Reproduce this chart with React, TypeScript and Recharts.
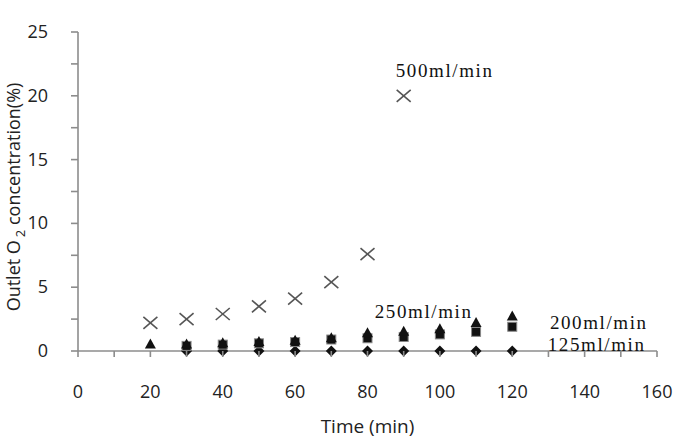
import {
  ScatterChart,
  Scatter,
  XAxis,
  YAxis,
  ReferenceDot,
  ReferenceLine,
  Label,
} from "recharts";

// time (min) at which each flow-rate series was sampled
const times500 = [20, 30, 40, 50, 60, 70, 80, 90];
const times250 = [20, 30, 40, 50, 60, 70, 80, 90, 100, 110, 120];
const times200 = [30, 40, 50, 60, 70, 80, 90, 100, 110, 120];
const times125 = [30, 40, 50, 60, 70, 80, 90, 100, 110, 120];

// outlet O2 concentration (%)
const o2At500 = [2.2, 2.5, 2.9, 3.5, 4.1, 5.4, 7.6, 20.0];
const o2At250 = [0.5, 0.5, 0.6, 0.7, 0.8, 1.0, 1.4, 1.5, 1.7, 2.2, 2.7];
const o2At200 = [0.4, 0.5, 0.6, 0.7, 0.9, 1.0, 1.1, 1.3, 1.5, 1.9];
const o2At125 = [0, 0, 0, 0, 0, 0, 0, 0, 0, 0];

const xTicks = [0, 10, 20, 30, 40, 50, 60, 70, 80, 90, 100, 110, 120, 130, 140, 150, 160];
const yTicks = [0, 2.5, 5, 7.5, 10, 12.5, 15, 17.5, 20, 22.5, 25];

// where each series name is written, in data units (text starts here)
const seriesNotes = [
  { name: "500ml/min", x: 87.8, y: 21.5 },
  { name: "250ml/min", x: 82, y: 2.6 },
  { name: "200ml/min", x: 130.4, y: 1.7 },
  { name: "125ml/min", x: 129.8, y: 0 },
];

const zip = (xs: number[], ys: number[]) => xs.map((t, i) => ({ time: t, o2: ys[i] }));

const AXIS = "#8c8c8c";
const TICK_FONT = "'Open Sans', sans-serif";

const Cross = ({ cx, cy }: any) => (
  <g stroke="#555" strokeWidth={1.6}>
    <line x1={cx - 7} y1={cy - 6} x2={cx + 7} y2={cy + 6} />
    <line x1={cx - 7} y1={cy + 6} x2={cx + 7} y2={cy - 6} />
  </g>
);

const Triangle = ({ cx, cy }: any) => (
  <polygon points={`${cx},${cy - 6} ${cx + 5.5},${cy + 4} ${cx - 5.5},${cy + 4}`} fill="#111" />
);

const Square = ({ cx, cy }: any) => (
  <rect x={cx - 4.5} y={cy - 4.5} width={9} height={9} fill="#111" stroke="#888" strokeWidth={1} />
);

const Diamond = ({ cx, cy }: any) => (
  <polygon points={`${cx},${cy - 5.5} ${cx + 5.5},${cy} ${cx},${cy + 5.5} ${cx - 5.5},${cy}`} fill="#111" />
);

// tickSize/tickMargin are 0, so x,y sit on the axis line itself
const XTick = ({ x, y, payload }: any) => (
  <g>
    <line x1={x} y1={y} x2={x} y2={y + 6} stroke={AXIS} strokeWidth={1.6} />
    {payload.value % 20 === 0 && (
      <text x={x} y={y + 47} textAnchor="middle" fill="#222" fontSize={18} fontFamily={TICK_FONT}>
        {payload.value}
      </text>
    )}
  </g>
);

const YTick = ({ x, y, payload }: any) => (
  <g>
    <line x1={x - 7} y1={y} x2={x} y2={y} stroke={AXIS} strokeWidth={1.6} />
    {payload.value % 5 === 0 && (
      <text x={x - 30} y={y + 6} textAnchor="end" fill="#222" fontSize={18} fontFamily={TICK_FONT}>
        {payload.value}
      </text>
    )}
  </g>
);

const NoteText = (text: string) => ({ viewBox }: any) => (
  <text
    x={viewBox.x}
    y={viewBox.y}
    fill="#111"
    fontSize={19}
    letterSpacing={1.6}
    fontFamily="'Liberation Serif', 'Times New Roman', serif"
  >
    {text}
  </text>
);

export default function App() {
  return (
    <div style={{ position: "absolute", left: 0, top: 0, background: "#fff" }}>
      <ScatterChart width={688} height={446} margin={{ top: 32, right: 31, bottom: 0, left: 18 }}>
        <XAxis
          type="number"
          dataKey="time"
          domain={[0, 160]}
          ticks={xTicks}
          interval={0}
          height={95}
          axisLine={false}
          tickLine={false}
          tickSize={0}
          tickMargin={0}
          tick={<XTick />}
        >
          <Label
            content={({ viewBox }: any) => (
              <text
                x={viewBox.x + viewBox.width / 2}
                y={viewBox.y + 82}
                textAnchor="middle"
                fill="#222"
                fontSize={19}
                fontFamily={TICK_FONT}
              >
                Time (min)
              </text>
            )}
          />
        </XAxis>
        <YAxis
          type="number"
          dataKey="o2"
          domain={[0, 25]}
          ticks={yTicks}
          interval={0}
          width={60}
          axisLine={false}
          tickLine={false}
          tickSize={0}
          tickMargin={0}
          tick={<YTick />}
        />

        <ReferenceLine y={0} stroke={AXIS} strokeWidth={1.6} ifOverflow="visible" />
        <ReferenceLine x={0} stroke={AXIS} strokeWidth={1.6} ifOverflow="visible" />

        <Scatter name="125ml/min" data={zip(times125, o2At125)} shape={<Diamond />} isAnimationActive={false} />
        <Scatter name="200ml/min" data={zip(times200, o2At200)} shape={<Square />} isAnimationActive={false} />
        <Scatter name="250ml/min" data={zip(times250, o2At250)} shape={<Triangle />} isAnimationActive={false} />
        <Scatter name="500ml/min" data={zip(times500, o2At500)} shape={<Cross />} isAnimationActive={false} />

        {seriesNotes.map((n) => (
          <ReferenceDot
            key={n.name}
            x={n.x}
            y={n.y}
            r={0}
            stroke="none"
            fill="none"
            ifOverflow="visible"
            label={NoteText(n.name)}
          />
        ))}

        <text
          x={20}
          y={197}
          transform="rotate(-90 20 197)"
          textAnchor="middle"
          fill="#222"
          fontSize={18}
          fontFamily={TICK_FONT}
        >
          Outlet O
          <tspan dx={3} dy={5} fontSize={13}>2</tspan>
          <tspan dy={-5}> concentration(%)</tspan>
        </text>
      </ScatterChart>
    </div>
  );
}
